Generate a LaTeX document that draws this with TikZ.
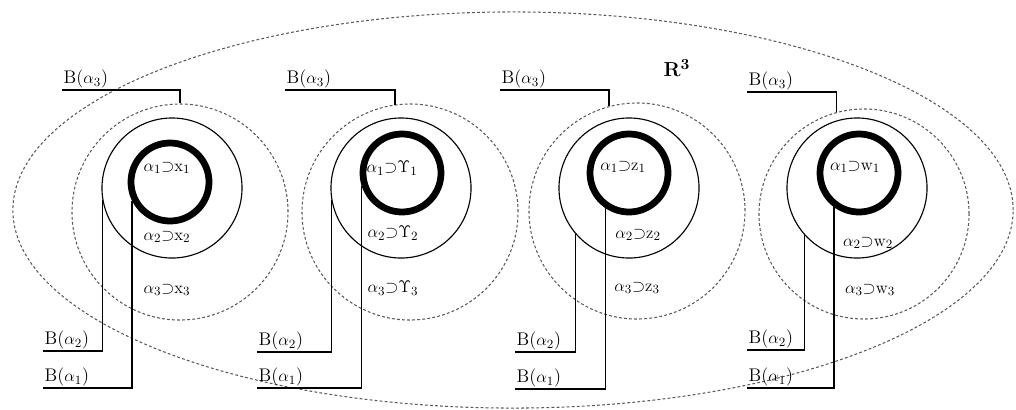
\documentclass[tikz,border=0pt]{standalone}
\usepackage{amsmath}
\usetikzlibrary{positioning, shapes.geometric}

\begin{document}
\begin{tikzpicture}[
  x=0.025cm, y=-0.025cm,
  every node/.style={font=\fontsize{12.5}{14}\selectfont},
  core/.style={circle, draw, line width=4.8pt, minimum size=1.95cm, inner sep=0pt},
  shell/.style={circle, draw, line width=0.8pt, minimum size=3.5cm, inner sep=0pt},
  zone/.style={circle, draw=black!65, dash pattern=on 2pt off 1.6pt, line width=0.75pt, minimum size=5.4cm, inner sep=0pt},
  blabel/.style={anchor=south west, inner sep=1pt, font=\fontsize{13}{15}\selectfont},
  lead/.style={line width=1pt},
]
\useasboundingbox (0,0) rectangle (1016,409);

% Outer space R^3
\node[ellipse, draw=black!65, dash pattern=on 2pt off 1.6pt, line width=0.75pt, minimum width=25cm, minimum height=9.9cm, inner sep=0pt] (space) at (513,210) {};
\node[font=\fontsize{15}{17}\selectfont] (rlabel) at (677,68) {$\mathbf{R}^{\mathbf{3}}$};

% Group 1: x
\node[zone] (zone1) at (180,212) {};
\node[shell] (shell1) at (172,188) {};
\node[core] (core1) at (170,182) {};
\node (in1) at (167,168) {$\alpha_1{\supset}\mathrm{x}_1$};
\node (mid1) at (167,237) {$\alpha_2{\supset}\mathrm{x}_2$};
\node (out1) at (167,290) {$\alpha_3{\supset}\mathrm{x}_3$};
\node[blabel] (bc1) at (62,90) {B($\alpha_3$)};
\node[blabel] (bb1) at (43,351) {B($\alpha_2$)};
\node[blabel] (ba1) at (43,388) {B($\alpha_1$)};
\draw[lead] (bc1.south west) -| (zone1.90);
\draw[lead] (bb1.south west) -| (shell1.190);
\draw[lead] (ba1.south west) -| (core1.206);

% Group 2: Y
\node[zone] (zone2) at (410,212) {};
\node[shell] (shell2) at (401,188) {};
\node[core] (core2) at (402,173) {};
\node (in2) at (392,168) {$\alpha_1{\supset}\Upsilon_1$};
\node (mid2) at (393,233) {$\alpha_2{\supset}\Upsilon_2$};
\node (out2) at (393,288) {$\alpha_3{\supset}\Upsilon_3$};
\node[blabel] (bc2) at (285,90) {B($\alpha_3$)};
\node[blabel] (bb2) at (257,352) {B($\alpha_2$)};
\node[blabel] (ba2) at (257,388) {B($\alpha_1$)};
\draw[lead] (bc2.south west) -| (zone2.98);
\draw[lead] (bb2.south west) -| (shell2.190);
\draw[lead] (ba2.south west) -| (core2.198);

% Group 3: z
\node[zone] (zone3) at (637,211) {};
\node[shell] (shell3) at (629,188) {};
\node[core] (core3) at (629,173) {};
\node (in3) at (623,167) {$\alpha_1{\supset}\mathrm{z}_1$};
\node (mid3) at (638,235) {$\alpha_2{\supset}\mathrm{z}_2$};
\node (out3) at (637,288) {$\alpha_3{\supset}\mathrm{z}_3$};
\node[blabel] (bc3) at (500,90) {B($\alpha_3$)};
\node[blabel] (bb3) at (515,352) {B($\alpha_2$)};
\node[blabel] (ba3) at (515,389) {B($\alpha_1$)};
\draw[lead] (bc3.south west) -| (zone3.105);
\draw[lead] (bb3.south west) -| (shell3.221);
\draw[lead] (ba3.south west) -| (core3.236);

% Group 4: w
\node[zone, minimum size=5.25cm] (zone4) at (864,214) {};
\node[shell] (shell4) at (857,188) {};
\node[core] (core4) at (859,173) {};
\node (in4) at (855,167) {$\alpha_1{\supset}\mathrm{w}_1$};
\node (mid4) at (868,243) {$\alpha_2{\supset}\mathrm{w}_2$};
\node (out4) at (870,290) {$\alpha_3{\supset}\mathrm{w}_3$};
\node[blabel] (bc4) at (747,92) {B($\alpha_3$)};
\node[blabel] (bb4) at (747,350) {B($\alpha_2$)};
\node[blabel] (ba4) at (747,388) {B($\alpha_1$)};
\draw[lead] (bc4.south west) -| (zone4.105);
\draw[lead] (bb4.south west) -| (shell4.222);
\draw[lead] (ba4.south west) -| (core4.234);

\end{tikzpicture}
\end{document}
